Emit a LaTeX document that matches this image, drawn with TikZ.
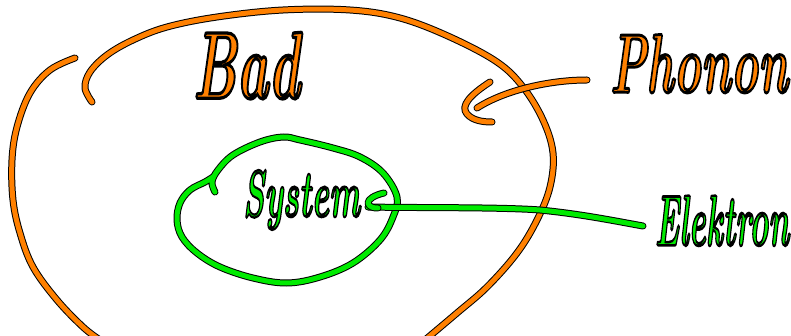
\documentclass[tikz,border=0pt]{standalone}
\usepackage{graphicx}
\definecolor{handorange}{RGB}{255,128,0}
\definecolor{handgreen}{RGB}{0,235,0}
\newcommand{\outlined}[2]{{\color{#1}\special{pdf:literal direct 2 Tr 0.35 w 0 0 0 RG}#2\special{pdf:literal direct 0 Tr}}}
\begin{document}
\begin{tikzpicture}[x=1pt,y=-1pt,
  penline/.style={draw=black, line width=1pt, double distance=5pt, line cap=round, line join=round},
  orangeline/.style={penline, double=handorange},
  greenline/.style={penline, double=handgreen},
  handtext/.style={inner sep=0pt, outer sep=0pt, anchor=south west, font=\itshape\bfseries}]
\useasboundingbox (0,0) rectangle (791,336);

% bath (orange)
\draw[orangeline] plot[smooth, tension=0.6] coordinates {(75,58) (50,70) (30,93) (17,127) (12,160) (13,200) (20,233) (33,267) (57,300) (83,327) (100,340)};
\draw[orangeline] plot[smooth, tension=0.6] coordinates {(92,102) (85,88) (90,72) (107,55) (133,40) (167,27) (217,17) (283,10) (350,10) (400,18) (450,37) (497,62) (523,87) (543,120) (553,153) (550,187) (537,220) (517,253) (487,287) (457,313) (425,340)};

% labels
\node[handtext] (bad) at (193,99) {\resizebox{107pt}{66pt}{\outlined{handorange}{Bad}}};
\node[handtext] (phonon) at (610,93) {\resizebox{178pt}{58pt}{\outlined{handorange}{Phonon}}};
\node[handtext] (system) at (243,230) {\resizebox*{117pt}{60pt}{\outlined{handgreen}{System}}};
\node[handtext] (elektron) at (655,246) {\resizebox{134pt}{50pt}{\outlined{handgreen}{Elektron}}};

% phonon arrow
\coordinate (phstart) at (587,80);
\coordinate (phtip) at (477,108);
\draw[orangeline] (phstart) .. controls (550,80) and (505,90) .. (phtip);
\draw[orangeline] (490,82) .. controls (470,95) and (460,106) .. (467,114) .. controls (473,121) and (484,122) .. (492,122);

% system (green)
\draw[greenline] plot[smooth, tension=0.6] coordinates {(215,192) (212,182) (218,170) (233,155) (260,142) (283,137) (300,140) (333,148) (360,157) (383,173) (397,197) (393,217) (380,240) (353,263) (320,277) (287,283) (253,278) (220,267) (197,253) (182,237) (177,220) (180,203) (190,190) (205,182) (213,177)};

% electron arrow
\coordinate (elstart) at (643,226);
\coordinate (eltip) at (368,207);
\draw[greenline] (elstart) .. controls (610,220) and (580,214) .. (540,210) .. controls (500,207) and (420,208) .. (eltip);
\draw[greenline] (384,193) .. controls (375,195) and (368,199) .. (368,203) .. controls (369,207) and (373,208) .. (378,208);
\end{tikzpicture}
\end{document}
